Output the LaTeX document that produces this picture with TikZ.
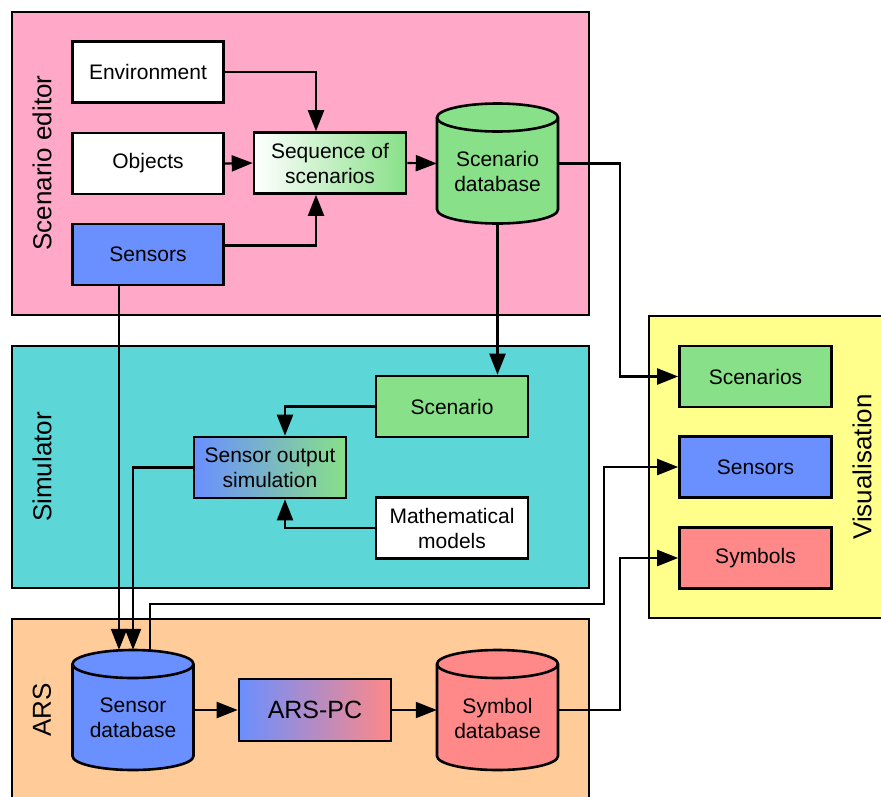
\documentclass[tikz,border=0pt]{standalone}
\usepackage{fontspec}
\setmainfont{Liberation Sans}
\usetikzlibrary{arrows.meta,calc}
\definecolor{cpink}{RGB}{255,168,200}
\definecolor{ccyan}{RGB}{92,214,214}
\definecolor{cpeach}{RGB}{255,204,153}
\definecolor{cyel}{RGB}{255,255,140}
\definecolor{cgreen}{RGB}{136,224,136}
\definecolor{cblue}{RGB}{106,143,255}
\definecolor{cred}{RGB}{255,136,136}
\tikzset{
  section/.style={draw=black, line width=2.4pt},
  seclabel/.style={rotate=90, font=\fontsize{26}{30}\selectfont, inner sep=0pt},
  box/.style={draw=black, line width=2.6pt, minimum width=151pt, minimum height=61pt, inner sep=0pt, align=center, font=\fontsize{21}{25}\selectfont},
  dbbox/.style={minimum width=121pt, minimum height=120pt, inner sep=0pt},
  dbtext/.style={align=center, font=\fontsize{21}{25}\selectfont, inner sep=0pt},
  conn/.style={line width=2.2pt, -{Triangle[length=21pt,width=16pt]}},
}
\newcommand\dbcyl[4]{% name, x, y, color
  \path[fill=#4, draw=black, line width=2.6pt]
    ({#2-60.5},{#3-46}) -- ({#2-60.5},{#3+46})
    arc[start angle=180, end angle=360, x radius=60.5pt, y radius=14pt]
    -- ({#2+60.5},{#3-46})
    arc[start angle=0, end angle=180, x radius=60.5pt, y radius=14pt] -- cycle;
  \draw[line width=2.6pt] ({#2-60.5},{#3-46})
    arc[start angle=180, end angle=360, x radius=60.5pt, y radius=14pt];
  \node[dbbox] (#1) at (#2,#3) {};
}
\begin{document}
\begin{tikzpicture}[x=1pt,y=-1pt]
\useasboundingbox (0,0) rectangle (881,796);
% sections
\draw[section, fill=cpink] (12,12) rectangle (589,315);
\draw[section, fill=ccyan] (12,346) rectangle (589,588);
\draw[section, fill=cpeach] (12,619) rectangle (589,812);
\draw[section, fill=cyel] (649,316) rectangle (900,618);
\node[seclabel] (lbed) at (42,163) {Scenario editor};
\node[seclabel] (lbsim) at (42,467) {Simulator};
\node[seclabel] (lbars) at (42,710) {ARS};
\node[seclabel] (lbvis) at (862,467) {Visualisation};
% scenario editor
\node[box, fill=white] (env) at (148,72) {Environment};
\node[box, fill=white] (obj) at (148,163.5) {Objects};
\node[box, fill=cblue] (sens) at (148,254.5) {Sensors};
\node[box, left color=white, right color=cgreen, minimum width=152pt] (seq) at (330,163) {Sequence of\\scenarios};
\dbcyl{sdb}{497.5}{163.5}{cgreen}
\node[dbtext] (sdbt) at (497.5,171) {Scenario\\database};
% simulator
\node[box, fill=cgreen, minimum width=152pt] (scen) at (452,406.5) {Scenario};
\node[box, left color=cblue, right color=cgreen, minimum width=152pt] (sos) at (270,467.5) {Sensor output\\simulation};
\node[box, fill=white, minimum width=152pt] (math) at (452,528) {Mathematical\\models};
% ARS
\dbcyl{sdbx}{133}{710}{cblue}
\node[dbtext] (sdbxt) at (133,718) {Sensor\\database};
\node[box, left color=cblue, right color=cred, minimum width=152pt, minimum height=62pt, font=\fontsize{25}{30}\selectfont] (arspc) at (315,710) {ARS-PC};
\dbcyl{symdb}{497.5}{710}{cred}
\node[dbtext] (symdbt) at (497.5,718) {Symbol\\database};
% visualisation
\node[box, fill=cgreen, minimum width=152pt] (vscen) at (755.5,376.5) {Scenarios};
\node[box, fill=cblue, minimum width=152pt] (vsens) at (755.5,467) {Sensors};
\node[box, fill=cred, minimum width=152pt] (vsym) at (755.5,558) {Symbols};
\coordinate (j1) at (604,604);
% connectors
\draw[conn] (env.east) -| ([xshift=-14pt]seq.north);
\draw[conn] (obj.east) -- (seq.west);
\draw[conn] ([yshift=9pt]sens.east) -| ([xshift=-14pt]seq.south);
\draw[conn] (seq.east) -- (sdb.west);
\draw[conn] (sdb.east) -- ++(61.5,0) |- (vscen.west);
\draw[conn] (sdb.south) -- (sdb.south |- scen.north);
\draw[conn] (scen.west) -| ([xshift=15pt]sos.north);
\draw[conn] (math.west) -| ([xshift=15pt]sos.south);
\draw[conn] (sos.west) -| (sdbx.north);
\draw[conn] ([xshift=-29pt]sens.south) -- ([xshift=-14pt]sdbx.north);
\draw[conn] ([xshift=17pt]sdbx.north) |- (j1) |- (vsens.west);
\draw[conn] (sdbx.east) -- (arspc.west);
\draw[conn] (arspc.east) -- (symdb.west);
\draw[conn] (symdb.east) -- ++(61.5,0) |- (vsym.west);
\end{tikzpicture}
\end{document}
